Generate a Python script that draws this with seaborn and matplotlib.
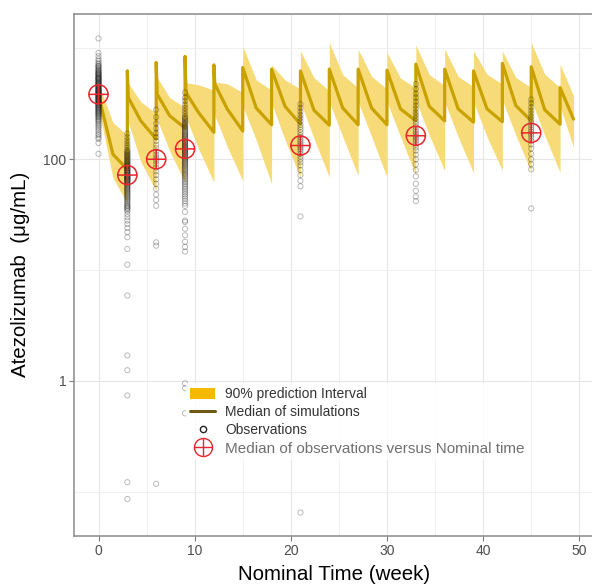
import numpy as np
import pandas as pd
import matplotlib
matplotlib.use("Agg")
import matplotlib.pyplot as plt
import seaborn as sns
from matplotlib.path import Path
from matplotlib.patches import Patch
from matplotlib.lines import Line2D
from matplotlib.ticker import FixedLocator, NullFormatter

# ---------------- data ----------------
sim_time = [0, 1.5, 3,
            3, 3.1, 4.4, 6,
            6, 6.1, 7.4, 9,
            9, 9.1, 10.4, 12,
            12, 12.1, 13.4, 15,
            15, 16.4, 18,
            18, 19.4, 21,
            21, 22.4, 24,
            24, 25.4, 27,
            27, 28.4, 30,
            30, 31.4, 33,
            33, 34.4, 36,
            36, 37.4, 39,
            39, 40.4, 42,
            42, 43.4, 45,
            45, 46.4, 48,
            48, 49.4]
sim_median = [380, 111, 81,
              627, 360, 222, 152,
              746, 387, 247, 191,
              847, 400, 264, 175,
              710, 476, 283, 180,
              673, 290, 205,
              650, 300, 207,
              627, 278, 203,
              650, 290, 205,
              650, 290, 205,
              636, 285, 222,
              721, 300, 222,
              650, 285, 216,
              627, 285, 218,
              733, 305, 222,
              683, 280, 207,
              443, 230]

band_time = [0, 1.5, 3,
             3, 4.4, 6,
             6, 7.4, 9,
             9, 10.4, 12,
             12, 13.4, 15,
             15, 16.4, 18,
             18, 19.4, 21,
             21, 22.4, 24,
             24, 25.4, 27,
             27, 28.4, 30,
             30, 31.4, 33,
             33, 34.4, 36,
             36, 37.4, 39,
             39, 40.4, 42,
             42, 43.4, 45,
             45, 46.4, 48,
             48, 49.4]
band_lower = [290, 68, 40,
              230, 95, 52,
              240, 119, 62,
              250, 125, 62,
              260, 130, 64,
              300, 150, 60,
              320, 150, 68,
              330, 155, 69,
              330, 160, 71,
              330, 160, 69,
              330, 160, 72,
              340, 165, 79,
              330, 160, 75,
              330, 160, 79,
              340, 165, 77,
              340, 165, 76,
              300, 128]
band_upper = [480, 215, 165,
              500, 330, 260,
              566, 360, 293,
              492, 470, 420,
              500, 480, 400,
              1050, 520, 420,
              710, 520, 430,
              950, 546, 414,
              1130, 580, 440,
              985, 560, 430,
              919, 540, 440,
              1073, 580, 460,
              985, 560, 450,
              950, 585, 476,
              950, 546, 443,
              1130, 585, 443,
              721, 373]

obs_t0 = [1230, 910, 850, 800, 770, 740, 720, 700, 690, 680, 665, 650, 640, 630,
          620, 610, 600, 595, 590, 580, 575, 565, 560, 550, 545, 540, 535, 530,
          525, 520, 512, 505, 500, 495, 490, 485, 480, 475, 470, 465, 460, 455,
          450, 445, 440, 435, 430, 425, 420, 418, 415, 410, 405, 402, 398, 395,
          392, 388, 384, 380, 376, 372, 370, 365, 362, 358, 354, 350, 345, 343,
          340, 336, 332, 330, 325, 322, 318, 315, 310, 308, 305, 300, 296, 292,
          290, 285, 280, 278, 272, 270, 265, 262, 258, 255, 250, 246, 242, 238,
          232, 228, 222, 218, 210, 205, 198, 192, 185, 178, 170, 165, 158, 153,
          140, 112]
obs_t3 = [170, 158, 148, 140, 133, 127, 121, 118, 116, 113, 111, 109, 107, 105,
          103, 101, 99, 97, 96, 94, 93, 91, 90, 88, 87, 86, 84, 83, 82, 81, 80,
          79, 78, 77, 76, 75, 74, 73, 72, 71, 70.5, 70, 69, 68, 67.5, 67, 66, 65,
          64.5, 64, 63, 62, 61, 60, 59, 58, 57, 56, 55, 54, 53, 52, 51, 50, 49,
          48, 47, 46, 45, 44, 43, 42, 41, 40, 39, 38, 37.5, 36.5, 36, 35, 34,
          32, 30, 28, 26, 24, 22, 19.8, 15.5, 11.2, 5.9, 1.7, 1.25, 0.74,
          0.122, 0.086]
obs_t6 = [280, 240, 210, 190, 172, 158, 146, 135, 126, 118, 110, 104, 100, 96,
          90, 84, 78, 72, 66, 60, 54, 48, 43, 38, 17.8, 16.6, 0.118]
obs_t9 = [400, 360, 336, 310, 290, 272, 256, 242, 236, 230, 224, 218, 212, 208,
          203, 198, 194, 190, 186, 182, 178, 175, 171, 168, 165, 162, 159, 156,
          153, 150, 147, 145, 142, 140, 137, 135, 132, 130, 128, 126, 124, 122,
          120, 118, 116, 114, 112, 110, 108, 106, 104, 102, 100, 98, 96, 94,
          92, 90, 88, 86, 84, 82, 80, 78, 76, 74, 72, 70, 68, 66, 64, 62, 60,
          58, 56, 54, 52, 50, 48, 46, 44, 42, 40, 38, 33.5, 28, 27.2, 23.6,
          20.6, 18, 16.2, 14.7, 0.95, 0.86, 0.51]
obs_t21 = [314, 290, 270, 250, 235, 220, 205, 195, 185, 175, 165, 158, 150, 144,
           138, 133, 128, 123, 118, 112, 106, 100, 94, 88, 80, 72, 64, 57, 30.5,
           0.065]
obs_t33 = [476, 430, 390, 360, 330, 305, 285, 265, 250, 235, 220, 208, 196, 185,
           176, 168, 162, 156, 150, 144, 136, 128, 120, 110, 100, 90, 80, 70, 60,
           52, 46, 42]
obs_t45 = [345, 320, 295, 275, 258, 242, 228, 215, 204, 194, 185, 177, 170, 163,
           155, 146, 136, 125, 112, 100, 90, 81, 36]

obs_times = [0, 3, 6, 9, 21, 33, 45]
obs_values = [obs_t0, obs_t3, obs_t6, obs_t9, obs_t21, obs_t33, obs_t45]

median_obs_time = [0, 3, 6, 9, 21, 33, 45]
median_obs_conc = [385, 72, 100, 124, 133, 163, 173]

x_ticks = [0, 10, 20, 30, 40, 50]
x_minor = [5, 15, 25, 35, 45, 55]
y_ticks = [1, 100]
y_tick_labels = ["1", "100"]
y_minor = [0.1, 10, 1000]

legend_labels = ["90% prediction Interval", "Median of simulations",
                 "Observations", "Median of observations versus Nominal time"]

# ---------------- plot ----------------
sns.set_theme(style="white")
plt.rcParams["font.family"] = ["Liberation Sans", "DejaVu Sans"]

obs = pd.concat([pd.DataFrame({"time": t, "conc": v})
                 for t, v in zip(obs_times, obs_values)], ignore_index=True)

fig = plt.figure(figsize=(5.92, 5.84), dpi=100)
ax = fig.add_axes([74 / 592, 48 / 584, 520 / 592, 522.5 / 584])
ax.set_yscale("log")

ax.fill_between(band_time, band_lower, band_upper, color="#F7DB78",
                linewidth=0, zorder=2)
sns.lineplot(x=sim_time, y=sim_median, estimator=None, sort=False,
             color="#C9A200", linewidth=2.3, ax=ax, zorder=3)
sns.scatterplot(data=obs, x="time", y="conc", marker="o", s=14,
                facecolor="none", edgecolor="#1a1a1a", alpha=0.3,
                linewidth=0.7, ax=ax, zorder=4)

circle = Path.unit_circle()
cross = Path([[-1, 0], [1, 0], [0, -1], [0, 1]],
             [Path.MOVETO, Path.LINETO, Path.MOVETO, Path.LINETO])
oplus = Path.make_compound_path(circle, cross)

sns.scatterplot(x=median_obs_time, y=median_obs_conc, marker=oplus, s=190,
                facecolor="none", edgecolor="#E8262B", linewidth=1.1,
                ax=ax, zorder=5)

ax.set_xlim(-2.548, 51.53)
ax.set_ylim(10 ** -1.399, 10 ** 3.315)

ax.set_xticks(x_ticks)
ax.set_xticklabels([str(v) for v in x_ticks])
ax.xaxis.set_minor_locator(FixedLocator(x_minor))
ax.set_yticks(y_ticks)
ax.set_yticklabels(y_tick_labels)
ax.yaxis.set_minor_locator(FixedLocator(y_minor))
ax.yaxis.set_minor_formatter(NullFormatter())

ax.set_axisbelow(True)
ax.grid(which="major", color="#E6E6E6", linewidth=0.8)
ax.grid(which="minor", color="#EEEEEE", linewidth=0.6)

ax.tick_params(which="major", length=3.5, width=0.8, color="#7f7f7f",
               labelsize=10, labelcolor="#4d4d4d", pad=2,
               bottom=True, left=True)
ax.tick_params(which="minor", length=0)

for side in ["left", "bottom", "top"]:
    ax.spines[side].set_color("#8a8a8a")
    ax.spines[side].set_linewidth(1.1)
    ax.spines[side].set_visible(True)
ax.spines["right"].set_visible(False)

ax.set_xlabel("Nominal Time (week)", fontsize=14.8, color="black", labelpad=5)
ax.set_ylabel("Atezolizumab  (μg/mL)", fontsize=14.8, color="black")
ax.yaxis.set_label_coords((30 - 74) / 520, 0.5)

handles = [Patch(facecolor="#F5BA00", edgecolor="none"),
           Line2D([], [], color="#6E5A10", lw=2.2),
           Line2D([], [], ls="none", marker="o", ms=4.5, mfc="none",
                  mec="#222222", mew=1.0),
           Line2D([], [], ls="none", marker=oplus, ms=13, mfc="none",
                  mec="#E8262B", mew=1.0)]
leg = ax.legend(handles, legend_labels, loc="upper left",
                bbox_to_anchor=(186 / 592, 1 - 383 / 584),
                bbox_transform=fig.transFigure, frameon=True, fontsize=10,
                handlelength=1.8, handleheight=0.9, handletextpad=0.7,
                labelspacing=0.3, borderpad=0.3, borderaxespad=0,
                fancybox=False)
leg.get_frame().set_facecolor("white")
leg.get_frame().set_edgecolor("none")
leg.get_frame().set_linewidth(0)
for txt in leg.get_texts()[:3]:
    txt.set_color("#333333")
leg.get_texts()[3].set_fontsize(11)
leg.get_texts()[3].set_color("#707070")
leg.set_zorder(10)

fig.savefig("out.png", dpi=100)
